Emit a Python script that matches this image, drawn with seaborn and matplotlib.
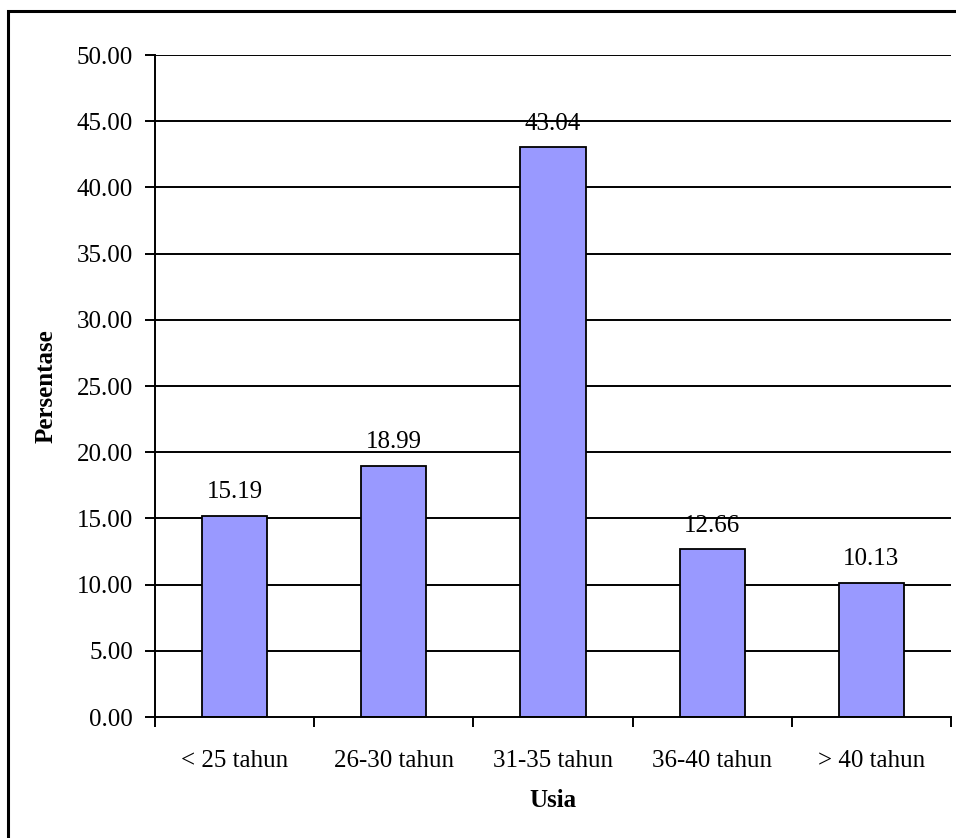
import numpy as np
import pandas as pd
import matplotlib
matplotlib.use('Agg')
import matplotlib.pyplot as plt
from matplotlib.patches import Rectangle
from matplotlib.ticker import FormatStrFormatter, FixedLocator
import seaborn as sns

# data
kategori = ['< 25 tahun', '26-30 tahun', '31-35 tahun', '36-40 tahun', '> 40 tahun']
persentase = [15.19, 18.99, 43.04, 12.66, 10.13]
y_ticks = [0, 5, 10, 15, 20, 25, 30, 35, 40, 45, 50]

sns.set_style('white')
plt.rcParams['font.family'] = ['Liberation Serif', 'DejaVu Serif']
plt.rcParams['text.color'] = 'black'
plt.rcParams['axes.labelcolor'] = 'black'
plt.rcParams['xtick.color'] = 'black'
plt.rcParams['ytick.color'] = 'black'

fs = 18
df = pd.DataFrame({'Usia': kategori, 'Persentase': persentase})

fig = plt.figure(figsize=(9.56, 8.38), dpi=100)
ax = fig.add_axes([155 / 956, 1 - 717 / 838, (951 - 155) / 956, (717 - 55) / 838])

# garis grid di belakang batang
for y in y_ticks[1:]:
    ax.axhline(y, color='black', lw=1.4, zorder=0)

sns.barplot(data=df, x='Usia', y='Persentase', color='#9999ff', edgecolor='black',
            linewidth=1.3, width=0.41, saturation=1, ax=ax, zorder=2)

ax.set_xlim(-0.5, len(kategori) - 0.5)
ax.set_ylim(0, 50)
ax.set_yticks(y_ticks)
ax.yaxis.set_major_formatter(FormatStrFormatter('%.2f'))

# tick x di batas kategori, label di tengah
ax.xaxis.set_minor_locator(FixedLocator(np.arange(-0.5, len(kategori), 1.0)))
ax.tick_params(axis='x', which='major', bottom=True, length=0, pad=24, labelsize=fs, labelcolor='black')
ax.tick_params(axis='x', which='minor', bottom=True, length=7, width=1.4, direction='out')
ax.tick_params(axis='y', left=True, length=7, width=1.4, direction='out', pad=9,
               labelsize=fs, labelcolor='black')

for side in ['top', 'right']:
    ax.spines[side].set_visible(False)
for side in ['left', 'bottom']:
    ax.spines[side].set_color('black')
    ax.spines[side].set_linewidth(1.4)

ax.set_xlabel('Usia', fontsize=fs, fontweight='bold', labelpad=12, color='black')
ax.set_ylabel('Persentase', fontsize=fs, fontweight='bold', labelpad=14, color='black')

for cont in ax.containers:
    ax.bar_label(cont, fmt='%.2f', padding=9, fontsize=fs, color='black')

# bingkai luar chart (terpotong di kanan dan bawah)
fig.add_artist(Rectangle((8 / 956, -0.2), 1.2, 1.2 - 11 / 838, transform=fig.transFigure,
                         fill=False, edgecolor='black', lw=2.2, clip_on=False))

fig.savefig('out.png', dpi=100)
